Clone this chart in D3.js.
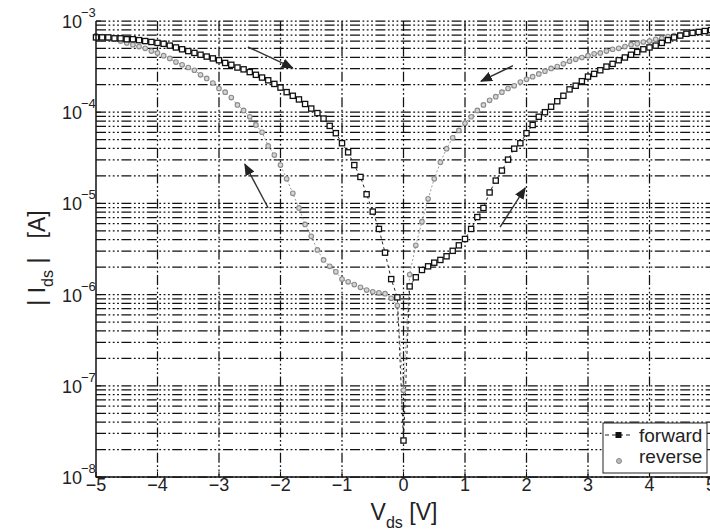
<!DOCTYPE html>
<html>
<head>
<meta charset="utf-8">
<script src="https://cdn.jsdelivr.net/npm/d3@7"></script>
<style>
  body { margin: 0; background: #fff; }
  svg { display: block; font-family: "Liberation Sans", Arial, Helvetica, sans-serif; }
</style>
</head>
<body>
<svg id="chart" width="710" height="531"></svg>
<script>
// sweep voltages (V), both sweeps listed in ascending order
var sweepV = [-5,-4.9,-4.8,-4.7,-4.6,-4.5,-4.4,-4.3,-4.2,-4.1,
  -4,-3.9,-3.8,-3.7,-3.6,-3.5,-3.4,-3.3,-3.2,-3.1,
  -3,-2.9,-2.8,-2.7,-2.6,-2.5,-2.4,-2.3,-2.2,-2.1,
  -2,-1.9,-1.8,-1.7,-1.6,-1.5,-1.4,-1.3,-1.2,-1.1,
  -1,-0.9,-0.8,-0.7,-0.6,-0.5,-0.4,-0.3,-0.2,-0.1,
  0,0.1,0.2,0.3,0.4,0.5,0.6,0.7,0.8,0.9,
  1,1.1,1.2,1.3,1.4,1.5,1.6,1.7,1.8,1.9,
  2,2.1,2.2,2.3,2.4,2.5,2.6,2.7,2.8,2.9,
  3,3.1,3.2,3.3,3.4,3.5,3.6,3.7,3.8,3.9,
  4,4.1,4.2,4.3,4.4,4.5,4.6,4.7,4.8,4.9,5];

// log10 |Ids| (A)
var forwardLogI = [-3.18,-3.18,-3.18,-3.19,-3.19,-3.20,-3.20,-3.21,-3.22,-3.23,
  -3.24,-3.25,-3.27,-3.29,-3.31,-3.33,-3.35,-3.37,-3.39,-3.41,
  -3.43,-3.46,-3.48,-3.51,-3.53,-3.56,-3.59,-3.62,-3.65,-3.69,
  -3.73,-3.78,-3.82,-3.86,-3.91,-3.96,-4.01,-4.07,-4.15,-4.23,
  -4.34,-4.44,-4.58,-4.71,-4.90,-5.09,-5.28,-5.54,-5.83,-6.03,
  -7.60,-5.91,-5.81,-5.73,-5.69,-5.65,-5.62,-5.58,-5.52,-5.46,
  -5.39,-5.28,-5.15,-5.05,-4.88,-4.75,-4.64,-4.52,-4.40,-4.34,
  -4.23,-4.14,-4.05,-4.00,-3.94,-3.88,-3.82,-3.75,-3.71,-3.66,
  -3.61,-3.58,-3.54,-3.50,-3.47,-3.43,-3.40,-3.37,-3.34,-3.31,
  -3.29,-3.27,-3.24,-3.21,-3.18,-3.16,-3.14,-3.13,-3.12,-3.11,-3.10];

var reverseLogI = [-3.16,-3.17,-3.19,-3.20,-3.22,-3.24,-3.26,-3.28,-3.30,-3.33,
  -3.35,-3.38,-3.41,-3.45,-3.48,-3.51,-3.54,-3.59,-3.63,-3.68,
  -3.74,-3.78,-3.84,-3.92,-3.98,-4.05,-4.14,-4.22,-4.37,-4.47,
  -4.58,-4.73,-4.89,-5.05,-5.23,-5.36,-5.51,-5.62,-5.69,-5.75,
  -5.83,-5.86,-5.89,-5.92,-5.95,-5.97,-5.98,-5.99,-6.04,-6.12,
  -7.05,-5.78,-5.46,-5.20,-4.95,-4.73,-4.55,-4.40,-4.28,-4.20,
  -4.12,-4.05,-3.98,-3.92,-3.87,-3.83,-3.78,-3.74,-3.71,-3.67,
  -3.64,-3.61,-3.58,-3.55,-3.52,-3.50,-3.47,-3.44,-3.42,-3.40,
  -3.38,-3.36,-3.35,-3.33,-3.31,-3.30,-3.28,-3.26,-3.25,-3.23,
  -3.22,-3.20,-3.19,-3.17,-3.16,-3.15,-3.14,-3.13,-3.12,-3.11,-3.10];

var xTicks = [-5,-4,-3,-2,-1,0,1,2,3,4,5];
var yDecades = [-8,-7,-6,-5,-4,-3];
var legendLabels = ["forward", "reverse"];

// sweep-direction arrows: [V, log10 A] tail -> head
var arrows = [
  {from: [-2.53, -3.285], to: [-1.80, -3.515]},
  {from: [-2.20, -5.05],  to: [-2.58, -4.57]},
  {from: [1.57, -5.26],   to: [1.98, -4.83]},
  {from: [1.78, -3.49],   to: [1.26, -3.66]}
];

var svg = d3.select("#chart");
var margin = {left: 96, top: 21},
    plotRight = 711, plotBottom = 477;

var xScale = d3.scaleLinear().domain([-5, 5]).range([margin.left, plotRight]);
var yScale = d3.scaleLog().domain([1e-8, 1e-3]).range([plotBottom, margin.top]);

var forward = sweepV.map(function(v, i) { return {v: v, i: Math.pow(10, forwardLogI[i])}; });
var reverse = sweepV.map(function(v, i) { return {v: v, i: Math.pow(10, reverseLogI[i])}; });

var gridDash = "10,2.5,1.8,2.5,1.8,2.5,1.8,2.5";

// horizontal grid (decades + minor 2..9)
var gridVals = [];
yDecades.forEach(function(k) {
  if (k == -3) { gridVals.push(1e-3); return; }
  for (var m = 1; m <= 9; m++) gridVals.push(m * Math.pow(10, k));
});

var grid = svg.append("g");
grid.selectAll(".hgrid")
  .data(gridVals)
  .enter()
  .append("line")
    .attr("x1", margin.left)
    .attr("x2", plotRight)
    .attr("y1", function(d) { return yScale(d); })
    .attr("y2", function(d) { return yScale(d); })
    .attr("stroke", "#111")
    .attr("stroke-width", 1.25)
    .attr("stroke-dasharray", gridDash);

grid.selectAll(".vgrid")
  .data(xTicks.slice(1))
  .enter()
  .append("line")
    .attr("x1", function(d) { return xScale(d); })
    .attr("x2", function(d) { return xScale(d); })
    .attr("y1", margin.top)
    .attr("y2", plotBottom)
    .attr("stroke", "#111")
    .attr("stroke-width", 1.25)
    .attr("stroke-dasharray", gridDash);

// curves
var line = d3.line()
  .x(function(d) { return xScale(d.v); })
  .y(function(d) { return yScale(d.i); });

svg.append("path")
  .datum(reverse)
  .attr("d", line)
  .attr("fill", "none")
  .attr("stroke", "#9a9a9a")
  .attr("stroke-width", 1)
  .attr("stroke-dasharray", "2,2");

svg.append("path")
  .datum(forward)
  .attr("d", line)
  .attr("fill", "none")
  .attr("stroke", "#222")
  .attr("stroke-width", 1)
  .attr("stroke-dasharray", "3,3");

svg.append("g").selectAll("circle")
  .data(reverse)
  .enter()
  .append("circle")
    .attr("cx", function(d) { return xScale(d.v); })
    .attr("cy", function(d) { return yScale(d.i); })
    .attr("r", 2.3)
    .attr("fill", "#d6d6d6")
    .attr("stroke", "#8c8c8c")
    .attr("stroke-width", 1.1);

svg.append("g").selectAll("rect")
  .data(forward)
  .enter()
  .append("rect")
    .attr("x", function(d) { return xScale(d.v) - 2.6; })
    .attr("y", function(d) { return yScale(d.i) - 2.6; })
    .attr("width", 5.2)
    .attr("height", 5.2)
    .attr("fill", "#fff")
    .attr("stroke", "#111")
    .attr("stroke-width", 1.3);

// arrows
svg.append("defs").append("marker")
  .attr("id", "head")
  .attr("markerUnits", "userSpaceOnUse")
  .attr("viewBox", "0 0 12 10")
  .attr("refX", 11).attr("refY", 5)
  .attr("markerWidth", 12).attr("markerHeight", 10)
  .attr("orient", "auto")
  .append("path")
    .attr("d", "M0,0 L12,5 L0,10 Z")
    .attr("fill", "#222");

svg.append("g").selectAll("line")
  .data(arrows)
  .enter()
  .append("line")
    .attr("x1", function(d) { return xScale(d.from[0]); })
    .attr("y1", function(d) { return yScale(Math.pow(10, d.from[1])); })
    .attr("x2", function(d) { return xScale(d.to[0]); })
    .attr("y2", function(d) { return yScale(Math.pow(10, d.to[1])); })
    .attr("stroke", "#333")
    .attr("stroke-width", 1.4)
    .attr("marker-end", "url(#head)");

// axes frame + inward ticks
var axes = svg.append("g").attr("stroke", "#111");
axes.append("line")
  .attr("x1", margin.left).attr("x2", margin.left)
  .attr("y1", margin.top).attr("y2", plotBottom + 0.5)
  .attr("stroke-width", 1.5);
axes.append("line")
  .attr("x1", margin.left).attr("x2", plotRight)
  .attr("y1", plotBottom).attr("y2", plotBottom)
  .attr("stroke-width", 1.5);

axes.selectAll(".xt")
  .data(xTicks)
  .enter()
  .append("line")
    .attr("x1", function(d) { return xScale(d); })
    .attr("x2", function(d) { return xScale(d); })
    .attr("y1", plotBottom)
    .attr("y2", plotBottom - 5)
    .attr("stroke-width", 1);

axes.selectAll(".yt")
  .data(yDecades)
  .enter()
  .append("line")
    .attr("x1", margin.left)
    .attr("x2", margin.left + 5)
    .attr("y1", function(d) { return yScale(Math.pow(10, d)); })
    .attr("y2", function(d) { return yScale(Math.pow(10, d)); })
    .attr("stroke-width", 1);

// tick labels
function minus(d) { return d < 0 ? "\u2212" + (-d) : String(d); }

svg.append("g").selectAll("text")
  .data(xTicks)
  .enter()
  .append("text")
    .attr("x", function(d) { return xScale(d); })
    .attr("y", plotBottom + 14)
    .attr("text-anchor", "middle")
    .attr("font-size", 18)
    .attr("fill", "#222")
    .text(minus);

var yl = svg.append("g").selectAll("g")
  .data(yDecades)
  .enter()
  .append("g");
yl.append("text")
  .attr("x", 82)
  .attr("y", function(d) { return yScale(Math.pow(10, d)) + 7; })
  .attr("text-anchor", "end")
  .attr("font-size", 18)
  .attr("fill", "#222")
  .text("10");
yl.append("text")
  .attr("x", 81)
  .attr("y", function(d) { return yScale(Math.pow(10, d)) - 4; })
  .attr("font-size", 13)
  .attr("fill", "#222")
  .text(minus);

// axis titles
var xt = svg.append("text")
  .attr("x", 404)
  .attr("y", 520)
  .attr("text-anchor", "middle")
  .attr("font-size", 23)
  .attr("fill", "#222")
  .style("white-space", "pre");
xt.append("tspan").text("V");
xt.append("tspan").attr("font-size", 16).attr("dy", 8).text("ds");
xt.append("tspan").attr("dy", -8).text(" [V]");

var yt = svg.append("text")
  .attr("transform", "translate(45,258) rotate(-90)")
  .attr("text-anchor", "middle")
  .attr("font-size", 23)
  .attr("fill", "#222")
  .style("white-space", "pre");
yt.append("tspan").text("| I");
yt.append("tspan").attr("font-size", 16).attr("dy", 8).text("ds");
yt.append("tspan").attr("dy", -8).text(" |   [A]");

// legend
var lg = svg.append("g");
lg.append("rect")
  .attr("x", 603).attr("y", 423)
  .attr("width", 104).attr("height", 50)
  .attr("fill", "#fff")
  .attr("stroke", "#222")
  .attr("stroke-width", 1);
lg.append("line")
  .attr("x1", 605).attr("x2", 633)
  .attr("y1", 435).attr("y2", 435)
  .attr("stroke", "#222")
  .attr("stroke-dasharray", "4,3");
lg.append("rect")
  .attr("x", 615.5).attr("y", 432)
  .attr("width", 6).attr("height", 6)
  .attr("fill", "#111");
lg.append("circle")
  .attr("cx", 619).attr("cy", 461)
  .attr("r", 2.5)
  .attr("fill", "#bbb")
  .attr("stroke", "#888");
lg.selectAll("text")
  .data(legendLabels)
  .enter()
  .append("text")
    .attr("x", 639)
    .attr("y", function(d, i) { return 442 + i * 21; })
    .attr("font-size", 19)
    .attr("fill", "#222")
    .text(function(d) { return d; });
</script>
</body>
</html>
